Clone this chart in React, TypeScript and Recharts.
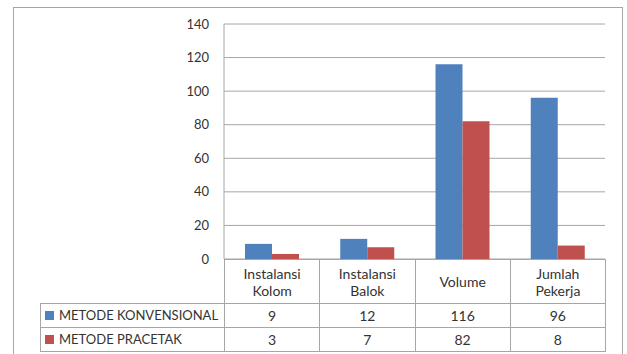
import { BarChart, Bar, XAxis, YAxis, CartesianGrid } from "recharts";

// kategori dan nilai tiap metode
const categories = ["Instalansi Kolom", "Instalansi Balok", "Volume", "Jumlah Pekerja"];
const konvensional = [9, 12, 116, 96];
const pracetak = [3, 7, 82, 8];
const seriesNames = ["METODE KONVENSIONAL", "METODE PRACETAK"];
const yTicks = [0, 20, 40, 60, 80, 100, 120, 140];

const COLORS = ["#4F81BD", "#C0504D"];
const FONT = "Lato, 'Open Sans', sans-serif";
const TEXT = "#333333";
const LINE = "#a6a6a6";

// area plot
const PLOT_LEFT = 224;
const PLOT_RIGHT = 605;
const PLOT_TOP = 24;
const PLOT_BOTTOM = 259;
const TABLE_LEFT = 40;
const CAT_H = 44;
const ROW_H = 24;

const data = categories.map((name, i) => ({
  name,
  konvensional: konvensional[i],
  pracetak: pracetak[i],
}));

const rows = [konvensional, pracetak];

export default function App() {
  const band = (PLOT_RIGHT - PLOT_LEFT) / categories.length;
  const cell = {
    border: `1px solid ${LINE}`,
    padding: 0,
    textAlign: "center" as const,
    color: TEXT,
  };

  return (
    <div style={{ position: "absolute", left: 0, top: 0, width: 627, height: 354, overflow: "hidden", background: "#fff", fontFamily: FONT }}>
      {/* bingkai luar */}
      <div style={{ position: "absolute", left: 13, top: 7, width: 608, height: 400, border: `1px solid ${LINE}` }} />

      <div style={{ position: "absolute", left: 0, top: 0 }}>
        <BarChart
          width={627}
          height={354}
          data={data}
          margin={{ top: PLOT_TOP, right: 627 - PLOT_RIGHT, left: 0, bottom: 354 - PLOT_BOTTOM }}
          barGap={0}
          barSize={27}
        >
          <CartesianGrid vertical={false} stroke={LINE} strokeDasharray="" />
          <XAxis dataKey="name" hide />
          <YAxis
            width={PLOT_LEFT}
            domain={[0, 140]}
            ticks={yTicks}
            tickLine={false}
            tickSize={0}
            tickMargin={15}
            axisLine={{ stroke: LINE }}
            tick={{ fill: TEXT, fontSize: 13, fontFamily: FONT }}
          />
          <Bar dataKey="konvensional" name={seriesNames[0]} fill={COLORS[0]} isAnimationActive={false} />
          <Bar dataKey="pracetak" name={seriesNames[1]} fill={COLORS[1]} isAnimationActive={false} />
        </BarChart>
      </div>

      {/* tabel data */}
      <table
        style={{
          position: "absolute",
          left: TABLE_LEFT,
          top: PLOT_BOTTOM,
          borderCollapse: "collapse",
          tableLayout: "fixed",
          fontSize: 13,
          fontFamily: FONT,
          lineHeight: "17px",
        }}
      >
        <colgroup>
          <col style={{ width: PLOT_LEFT - TABLE_LEFT }} />
          {categories.map((c) => (
            <col key={c} style={{ width: band }} />
          ))}
        </colgroup>
        <tbody>
          <tr style={{ height: CAT_H }}>
            <td style={{ border: "none", borderBottom: `1px solid ${LINE}` }} />
            {categories.map((c) => (
              <td key={c} style={{ ...cell, fontSize: 14 }}>
                {c.split(" ").map((w) => (
                  <div key={w}>{w}</div>
                ))}
              </td>
            ))}
          </tr>
          {rows.map((vals, r) => (
            <tr key={seriesNames[r]} style={{ height: ROW_H }}>
              <td style={{ ...cell, textAlign: "left", paddingLeft: 4, whiteSpace: "nowrap" }}>
                <span
                  style={{
                    display: "inline-block",
                    width: 9,
                    height: 9,
                    background: COLORS[r],
                    marginRight: 5,
                  }}
                />
                {seriesNames[r]}
              </td>
              {vals.map((v, i) => (
                <td key={i} style={{ ...cell, fontSize: 14 }}>
                  {v}
                </td>
              ))}
            </tr>
          ))}
        </tbody>
      </table>
    </div>
  );
}
